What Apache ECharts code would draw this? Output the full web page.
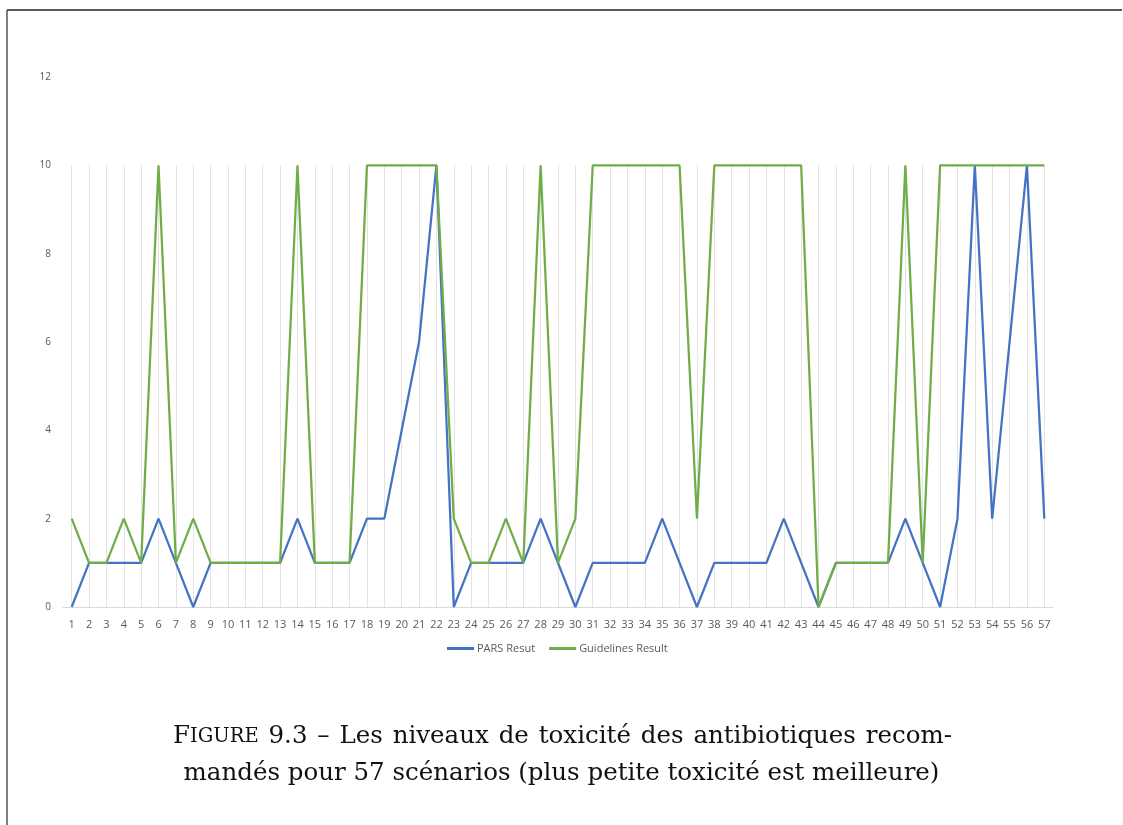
<!DOCTYPE html>
<html>
<head>
<meta charset="utf-8">
<script src="https://cdn.jsdelivr.net/npm/echarts@6/dist/echarts.min.js"></script>
<style>
  html, body { margin: 0; padding: 0; background: #fff; }
  #chart { width: 1123px; height: 825px; }
</style>
</head>
<body>
<div id="chart"></div>
<script>
// scenarios 1..57
const scenarios = Array.from({ length: 57 }, (_, i) => String(i + 1));

const parsResult = [
  0, 1, 1, 1, 1, 2, 1, 0, 1, 1,
  1, 1, 1, 2, 1, 1, 1, 2, 2, 4,
  6, 10, 0, 1, 1, 1, 1, 2, 1, 0,
  1, 1, 1, 1, 2, 1, 0, 1, 1, 1,
  1, 2, 1, 0, 1, 1, 1, 1, 2, 1,
  0, 2, 10, 2, 6, 10, 2
];

const guidelinesResult = [
  2, 1, 1, 2, 1, 10, 1, 2, 1, 1,
  1, 1, 1, 10, 1, 1, 1, 10, 10, 10,
  10, 10, 2, 1, 1, 2, 1, 10, 1, 2,
  10, 10, 10, 10, 10, 10, 2, 10, 10, 10,
  10, 10, 10, 0, 1, 1, 1, 1, 10, 1,
  10, 10, 10, 10, 10, 10, 10
];

const yTicks = [0, 2, 4, 6, 8, 10, 12];
// vertical gridlines only run up to this level
const gridTop = 10;

const seriesNames = ['PARS Resut', 'Guidelines Result'];
const seriesColors = ['#4472c4', '#70ad47'];

// caption: first line is justified (LaTeX), second is centred
const captionWords1 = ['9.3', '–', 'Les', 'niveaux', 'de', 'toxicité', 'des', 'antibiotiques', 'recom-'];
const captionLine2 = 'mandés pour 57 scénarios (plus petite toxicité est meilleure)';

const serif = "'DejaVu Serif', 'Liberation Serif', serif";
const axisFont = "'Open Sans', 'Liberation Sans', sans-serif";
const capSize = 24.5;
const scSize = 19.5;
const line1Left = 173;
const line1Width = 779;

// work out the stretched word gap for the justified first line
const ctx = document.createElement('canvas').getContext('2d');
ctx.font = capSize + 'px ' + serif;
let natural = ctx.measureText('F').width;
captionWords1.forEach(w => { natural += ctx.measureText(w).width; });
ctx.font = scSize + 'px ' + serif;
natural += ctx.measureText('IGURE').width;
const gap = (line1Width - natural) / captionWords1.length;

let line1 = '{big|F}{sc|IGURE}';
captionWords1.forEach(w => { line1 += '{sp| }{big|' + w + '}'; });

const chart = echarts.init(document.getElementById('chart'), null, { renderer: 'canvas' });

chart.setOption({
  animation: false,
  backgroundColor: '#fff',
  grid: { left: 63, right: 70, top: 77, bottom: 218, containLabel: false },
  legend: {
    data: seriesNames,
    bottom: 166,
    left: 442,
    itemWidth: 27,
    itemHeight: 3,
    itemGap: 14,
    icon: 'rect',
    textStyle: { fontFamily: axisFont, fontSize: 11, color: '#595959', padding: [0, 0, 0, -2] }
  },
  xAxis: {
    type: 'category',
    data: scenarios,
    boundaryGap: true,
    axisLine: { lineStyle: { color: '#d9d9d9', width: 1 } },
    axisTick: { show: false },
    splitLine: { show: false },
    axisLabel: { interval: 0, fontFamily: axisFont, fontSize: 11, color: '#595959', margin: 12 }
  },
  yAxis: {
    type: 'value',
    min: yTicks[0],
    max: yTicks[yTicks.length - 1],
    interval: 2,
    axisLine: { show: false },
    axisTick: { show: false },
    splitLine: { show: false },
    axisLabel: { fontFamily: axisFont, fontSize: 10, color: '#595959', margin: 12 }
  },
  series: [
    {
      name: seriesNames[0],
      type: 'line',
      data: parsResult,
      showSymbol: false,
      symbol: 'none',
      z: 2,
      lineStyle: { color: seriesColors[0], width: 2.25 },
      itemStyle: { color: seriesColors[0] },
      markLine: {
        silent: true,
        symbol: 'none',
        z: 1,
        label: { show: false },
        lineStyle: { color: '#e3e3e3', width: 1, type: 'solid' },
        data: scenarios.map(s => [{ xAxis: s, yAxis: 0 }, { xAxis: s, yAxis: gridTop }])
      }
    },
    {
      // guidelines drawn on top, as in the original
      name: seriesNames[1],
      type: 'line',
      data: guidelinesResult,
      showSymbol: false,
      symbol: 'none',
      z: 3,
      lineStyle: { color: seriesColors[1], width: 2.25 },
      itemStyle: { color: seriesColors[1] }
    }
  ],
  graphic: [
    // page frame lines
    { type: 'line', shape: { x1: 7, y1: 10, x2: 1122, y2: 10 }, style: { stroke: '#222', lineWidth: 1.5 } },
    { type: 'line', shape: { x1: 7, y1: 10, x2: 7, y2: 825 }, style: { stroke: '#555', lineWidth: 1.5 } },
    {
      type: 'text',
      left: line1Left,
      top: 724,
      style: {
        text: line1,
        rich: {
          big: { fontFamily: serif, fontSize: capSize, fill: '#111' },
          sc: { fontFamily: serif, fontSize: scSize, fill: '#111' },
          sp: { fontFamily: serif, fontSize: capSize, width: gap }
        }
      }
    },
    {
      type: 'text',
      left: 'center',
      top: 761,
      style: { text: captionLine2, fontFamily: serif, fontSize: capSize, fill: '#111' }
    }
  ]
});
</script>
</body>
</html>
